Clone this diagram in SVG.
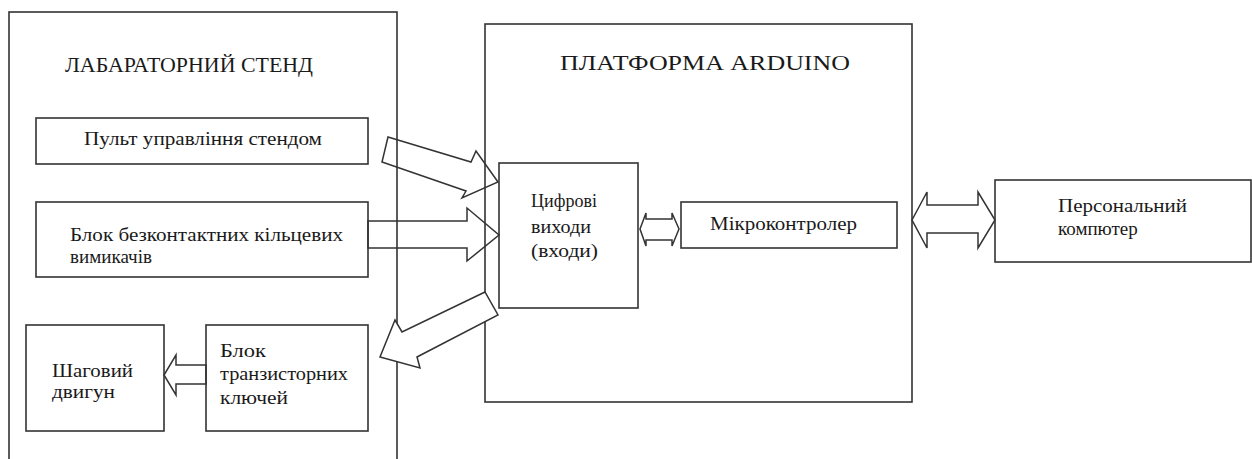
<svg xmlns="http://www.w3.org/2000/svg" width="1252" height="459" viewBox="0 0 1252 459">
<style>
.box{fill:none;stroke:#333;stroke-width:1.6}
.t{font-family:"Liberation Serif","Times New Roman",serif;font-size:19px;fill:#1a1a1a}
.h{font-family:"Liberation Serif","Times New Roman",serif;font-size:22px;fill:#1a1a1a}
.ar{fill:none;stroke:#333;stroke-width:1.5;stroke-linejoin:miter}
.arw{fill:#fff;stroke:#333;stroke-width:1.5;stroke-linejoin:miter}
</style>
<rect width="1252" height="459" fill="#fff"/>
<g id="stand">
<rect class="box" x="9" y="12" width="388" height="460"/>
<text class="h" x="65" y="72" textLength="248" lengthAdjust="spacingAndGlyphs">ЛАБАРАТОРНИЙ СТЕНД</text>
</g>
<g id="arduino">
<rect class="box" x="485" y="24" width="427" height="378"/>
<text class="h" x="560" y="70" textLength="290" lengthAdjust="spacingAndGlyphs">ПЛАТФОРМА ARDUINO</text>
</g>
<g id="pult">
<rect class="box" x="36" y="118" width="332" height="46"/>
<text class="t" x="84" y="145" textLength="238" lengthAdjust="spacingAndGlyphs">Пульт управління стендом</text>
</g>
<g id="bezkontakt">
<rect class="box" x="36" y="202" width="332" height="75"/>
<text class="t" x="70" y="241" textLength="273" lengthAdjust="spacingAndGlyphs">Блок безконтактних кільцевих</text>
<text class="t" x="70" y="263" textLength="82" lengthAdjust="spacingAndGlyphs">вимикачів</text>
</g>
<g id="motor">
<rect class="box" x="26" y="325" width="138" height="106"/>
<text class="t" x="52" y="377" textLength="81" lengthAdjust="spacingAndGlyphs">Шаговий</text>
<text class="t" x="52" y="398" textLength="63" lengthAdjust="spacingAndGlyphs">двигун</text>
</g>
<g id="keys">
<rect class="box" x="206" y="325" width="162" height="106"/>
<text class="t" x="220" y="357" textLength="46" lengthAdjust="spacingAndGlyphs">Блок</text>
<text class="t" x="220" y="380" textLength="128" lengthAdjust="spacingAndGlyphs">транзисторних</text>
<text class="t" x="220" y="404" textLength="68" lengthAdjust="spacingAndGlyphs">ключей</text>
</g>
<g id="digital">
<rect class="box" x="499" y="163" width="139" height="145"/>
<text class="t" x="531" y="207" textLength="66" lengthAdjust="spacingAndGlyphs">Цифрові</text>
<text class="t" x="531" y="233" textLength="60" lengthAdjust="spacingAndGlyphs">виходи</text>
<text class="t" x="531" y="257" textLength="67" lengthAdjust="spacingAndGlyphs">(входи)</text>
</g>
<g id="mcu">
<rect class="box" x="681" y="202" width="216" height="46"/>
<text class="t" x="710" y="230" textLength="147" lengthAdjust="spacingAndGlyphs">Мікроконтролер</text>
</g>
<g id="pc">
<rect class="box" x="995" y="180" width="256" height="82"/>
<text class="t" x="1058" y="212" textLength="129" lengthAdjust="spacingAndGlyphs">Персональний</text>
<text class="t" x="1058" y="235">компютер</text>
</g>
<g id="connectors">
<polygon class="ar" points="388,137 471,162 476,151 498,182 462,198 466,191 382,162"/>
<polygon class="ar" points="368,221 467,221 467,208 499,235 467,261 467,248 368,248"/>
<polygon class="arw" points="485,292 402,332 395,320 380,357 420,368 417,357 498,315"/>
<polygon class="ar" points="206,365 176,365 176,355 164,375 176,395 176,384 206,384"/>
<polygon class="ar" points="640,229 646,213 646,219 672,219 672,213 679,229 672,246 672,240 646,240 646,246"/>
<polygon class="ar" points="912,220 927,192 927,205 978,205 978,192 995,220 978,248 978,233 927,233 927,248"/>
</g>
</svg>
